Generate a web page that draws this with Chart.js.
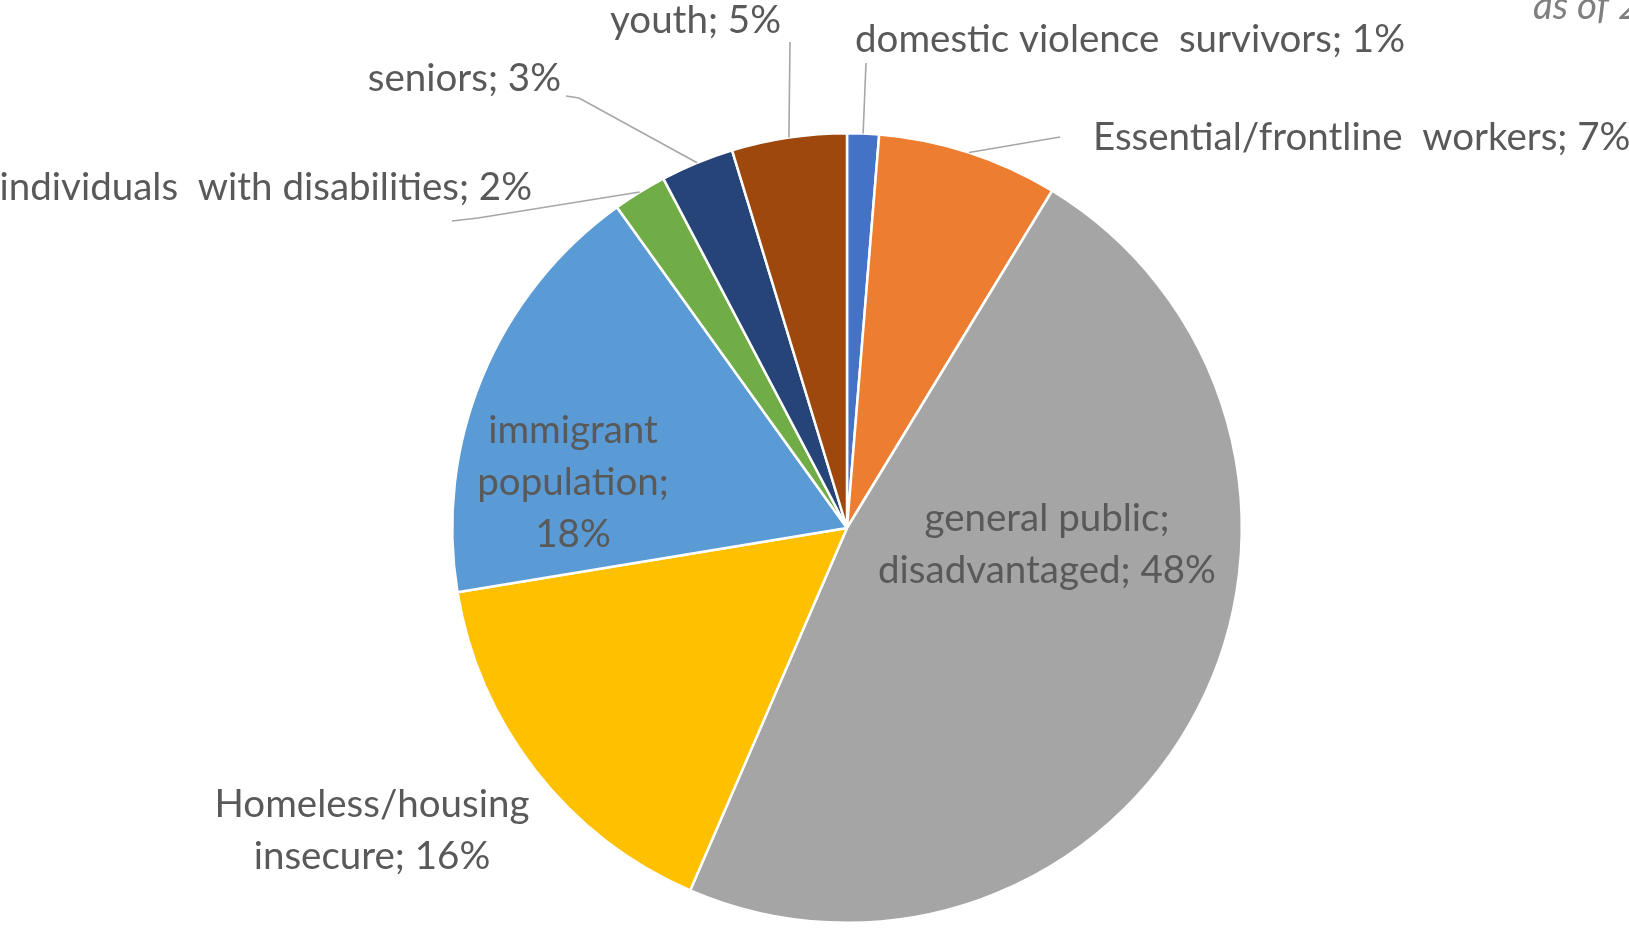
<!DOCTYPE html>
<html>
<head>
<meta charset="utf-8">
<script src="https://cdn.jsdelivr.net/npm/chart.js@4.4.1/dist/chart.umd.min.js"></script>
<style>
  html, body { margin: 0; padding: 0; background: #fff; }
  #wrap { width: 1629px; height: 930px; }
</style>
</head>
<body>
<div id="wrap"><canvas id="chart" width="1629" height="930"></canvas></div>
<script>
// slices, clockwise from 12 o'clock
const categories = [
    'domestic violence  survivors',
    'Essential/frontline  workers',
    'general public; disadvantaged',
    'Homeless/housing insecure',
    'immigrant population',
    'individuals  with disabilities',
    'seniors',
    'youth'
];
const shares = [1.3, 7.4, 47.8, 15.9, 17.7, 2.2, 3.0, 4.7];
const shareLabels = ['1%', '7%', '48%', '16%', '18%', '2%', '3%', '5%'];
const sliceColors = ['#4472C4', '#ED7D31', '#A5A5A5', '#FFC000', '#5B9BD5', '#70AD47', '#264478', '#9E480E'];

// label placement, one per slice. wrap = words per line, leader = elbow points before the slice edge
const labelSpots = [
    { x: 855, y: 40, align: 'left', leader: [[866, 63]] },
    { x: 1093, y: 138, align: 'left', leader: [[1060, 137]] },
    { x: 1047, y: 519, align: 'center', wrap: [2, 2] },
    { x: 372, y: 805, align: 'center', wrap: [1, 2] },
    { x: 573, y: 431, align: 'center', wrap: [1, 1, 1] },
    { x: 532, y: 188, align: 'right', leader: [[452, 221], [478, 218]] },
    { x: 561, y: 79, align: 'right', leader: [[566, 96], [579, 98]] },
    { x: 781, y: 21, align: 'right', leader: [[790, 42]] }
];

const FONT = '38.5px Lato';
const TEXT_COLOR = '#595959';
const LINE_GAP = 52;

const pieLabels = {
    id: 'pieLabels',
    afterDraw( chart ){
        const ctx = chart.ctx;
        const arcs = chart.getDatasetMeta(0).data;
        ctx.save();

        arcs.forEach((arc, i) => {
            const spot = labelSpots[i];
            const text = categories[i] + '; ' + shareLabels[i];

            // leader line from the label to the middle of the slice's rim
            if (spot.leader) {
                const p = arc.getProps(['x', 'y', 'startAngle', 'endAngle', 'outerRadius'], true);
                const mid = (p.startAngle + p.endAngle) / 2;
                ctx.beginPath();
                ctx.strokeStyle = '#A6A6A6';
                ctx.lineWidth = 1.6;
                spot.leader.forEach((pt, k) => k === 0 ? ctx.moveTo(pt[0], pt[1]) : ctx.lineTo(pt[0], pt[1]));
                ctx.lineTo(p.x + Math.cos(mid) * p.outerRadius, p.y + Math.sin(mid) * p.outerRadius);
                ctx.stroke();
            }

            let lines = [text];
            if (spot.wrap) {
                const words = text.split(' ');
                lines = [];
                let k = 0;
                spot.wrap.forEach(n => {
                    lines.push(words.slice(k, k + n).join(' '));
                    k += n;
                });
            }

            ctx.font = FONT;
            ctx.fillStyle = TEXT_COLOR;
            ctx.textAlign = spot.align;
            ctx.textBaseline = 'middle';
            lines.forEach((line, j) => ctx.fillText(line, spot.x, spot.y + j * LINE_GAP));
        });

        // cut-off note in the top right corner
        ctx.font = 'italic 38.5px Lato';
        ctx.fillStyle = '#7F7F7F';
        ctx.textAlign = 'left';
        ctx.textBaseline = 'alphabetic';
        ctx.fillText('as of 2021', 1533, 19);

        ctx.restore();
    }
};

new Chart(document.getElementById('chart'), {
    type: 'pie',
    data: {
        labels: categories,
        datasets: [{
            data: shares,
            backgroundColor: sliceColors,
            borderColor: '#ffffff',
            borderWidth: 2.5
        }]
    },
    options: {
        responsive: false,
        animation: false,
        devicePixelRatio: 1,
        layout: { padding: { left: 451, right: 386, top: 132, bottom: 6 } },
        plugins: {
            legend: { display: false },
            tooltip: { enabled: false }
        }
    },
    plugins: [pieLabels]
});
</script>
</body>
</html>
